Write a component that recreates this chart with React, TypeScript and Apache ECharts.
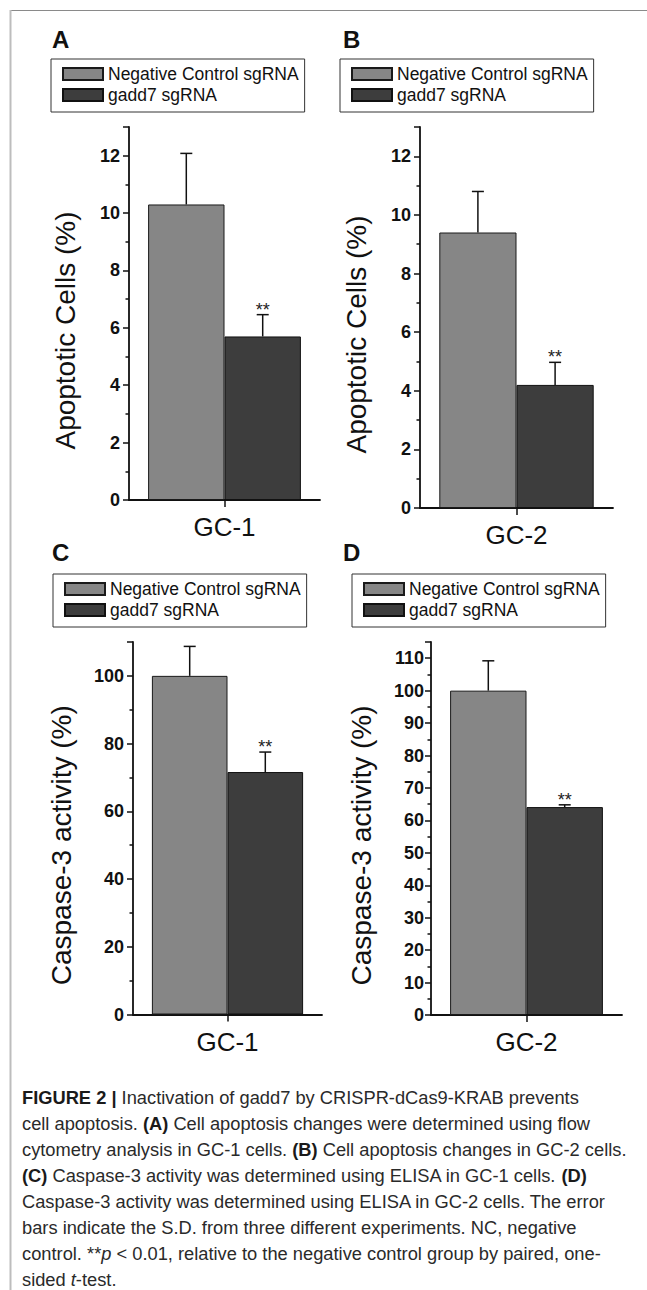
import React, { useEffect, useRef } from 'react';
import * as echarts from 'echarts';

// ---------- data ----------
const legendNames = ['Negative Control sgRNA', 'gadd7 sgRNA'];
const panelLetters = ['A', 'B', 'C', 'D'];
const categories = [['GC-1'], ['GC-2'], ['GC-1'], ['GC-2']];
const yAxisNames = ['Apoptotic Cells (%)', 'Apoptotic Cells (%)', 'Caspase-3 activity (%)', 'Caspase-3 activity (%)'];
const ncMeans = [10.3, 9.4, 100, 100];
const ncSD = [1.78, 1.4, 8.7, 9.2];
const gaddMeans = [5.7, 4.2, 71.6, 64.1];
const gaddSD = [0.76, 0.77, 5.9, 0.7];
const significance = ['**', '**', '**', '**'];
const yMax = [13, 13, 110, 115];
const yInterval = [2, 2, 20, 10];

const captionLines = [
  '{b|FIGURE 2 |} Inactivation of gadd7 by CRISPR-dCas9-KRAB prevents',
  'cell apoptosis. {b|(A)} Cell apoptosis changes were determined using flow',
  'cytometry analysis in GC-1 cells. {b|(B)} Cell apoptosis changes in GC-2 cells.',
  '{b|(C)} Caspase-3 activity was determined using ELISA in GC-1 cells. {b|(D)}',
  'Caspase-3 activity was determined using ELISA in GC-2 cells. The error',
  'bars indicate the S.D. from three different experiments. NC, negative',
  'control. **{i|p} < 0.01, relative to the negative control group by paired, one-',
  'sided {i|t}-test.',
];

// ---------- layout ----------
const FONT = '"Liberation Sans", Arial, Helvetica, sans-serif';
const LAYOUT = [
  { x: 129, y: 127, w: 191, h: 373, legX: 51, legY: 59, letX: 52, letY: 39, nameGap: 50, labMargin: 9 },
  { x: 420, y: 127, w: 193, h: 381, legX: 340, legY: 59, letX: 343, letY: 39, nameGap: 50, labMargin: 9 },
  { x: 133, y: 642, w: 189, h: 372.5, legX: 53, legY: 574, letX: 52, letY: 552, nameGap: 58, labMargin: 9 },
  { x: 431, y: 642, w: 191, h: 373, legX: 352, legY: 574, letX: 343, letY: 552, nameGap: 56, labMargin: 7 },
];
const INK = '#111';
const CAP_FS = 18.3;

function buildOption() {
  const grid = LAYOUT.map((L) => ({ left: L.x, top: L.y, width: L.w, height: L.h, containLabel: false }));

  const xAxis = categories.map((c, i) => ({
    type: 'category',
    gridIndex: i,
    data: c,
    axisLine: { show: true, lineStyle: { color: INK, width: 1.8 } },
    axisTick: { show: true, alignWithLabel: true, length: 7, lineStyle: { color: INK, width: 1.5 } },
    axisLabel: { margin: 14, fontSize: 26, color: INK, fontFamily: FONT },
    splitLine: { show: false },
  }));

  const yAxis = yMax.map((mx, i) => ({
    type: 'value',
    gridIndex: i,
    min: 0,
    max: mx,
    interval: yInterval[i],
    name: yAxisNames[i],
    nameLocation: 'middle',
    nameGap: LAYOUT[i].nameGap,
    nameTextStyle: { fontSize: 28, color: INK, fontFamily: FONT, padding: [0, 34, 0, 0] },
    axisLine: { show: true, lineStyle: { color: INK, width: 1.8 } },
    axisTick: { show: true, length: 6, lineStyle: { color: INK, width: 1.5 } },
    minorTick: { show: true, splitNumber: 2, length: 3.5, lineStyle: { color: INK, width: 1.5 } },
    splitLine: { show: false },
    minorSplitLine: { show: false },
    axisLabel: {
      margin: LAYOUT[i].labMargin,
      fontSize: 18,
      fontWeight: 'bold',
      color: INK,
      fontFamily: FONT,
      formatter: (v: number) => (v % yInterval[i] === 0 ? String(v) : ''),
    },
  }));

  const series: any[] = [];
  for (let i = 0; i < 4; i++) {
    series.push({
      type: 'bar',
      name: legendNames[0],
      xAxisIndex: i,
      yAxisIndex: i,
      data: [ncMeans[i]],
      barGap: '0%',
      barCategoryGap: '20%',
      itemStyle: { color: '#868686', borderColor: '#1a1a1a', borderWidth: 1 },
    });
    series.push({
      type: 'bar',
      name: legendNames[1],
      xAxisIndex: i,
      yAxisIndex: i,
      data: [gaddMeans[i]],
      barGap: '0%',
      barCategoryGap: '20%',
      itemStyle: { color: '#3d3d3d', borderColor: '#111', borderWidth: 1 },
    });
    const panel = i;
    series.push({
      type: 'custom',
      xAxisIndex: i,
      yAxisIndex: i,
      z: 10,
      silent: true,
      data: [
        [0, ncMeans[i], ncMeans[i] + ncSD[i], 0],
        [0, gaddMeans[i], gaddMeans[i] + gaddSD[i], 1],
      ],
      renderItem: (params: any, api: any) => {
        const cat = api.value(0);
        const mean = api.value(1);
        const top = api.value(2);
        const which = api.value(3);
        const band = api.size([1, 0])[0];
        const off = (which === 0 ? -1 : 1) * band * 0.2;
        const p0 = api.coord([cat, mean]);
        const p1 = api.coord([cat, top]);
        const x = p0[0] + off;
        const st = { stroke: INK, lineWidth: 1.5 };
        const children: any[] = [
          { type: 'line', shape: { x1: x, y1: p0[1], x2: x, y2: p1[1] }, style: st },
          { type: 'line', shape: { x1: x - 6, y1: p1[1], x2: x + 6, y2: p1[1] }, style: st },
        ];
        if (which === 1 && significance[panel]) {
          children.push({
            type: 'text',
            x,
            y: p1[1] - 5,
            style: {
              text: significance[panel],
              fontSize: 18,
              fontFamily: FONT,
              fill: '#222',
              align: 'center',
              verticalAlign: 'middle',
            },
          });
        }
        return { type: 'group', children };
      },
    });
  }

  const legend = LAYOUT.map((L) => ({
    left: L.legX,
    top: L.legY,
    orient: 'vertical',
    data: legendNames,
    icon: 'rect',
    itemWidth: 40,
    itemHeight: 12,
    itemGap: 3,
    padding: [6, 6, 8, 11],
    borderColor: '#333',
    borderWidth: 1,
    selectedMode: false,
    textStyle: { fontSize: 17.5, color: INK, fontFamily: FONT },
  }));

  const graphic: any[] = [
    { type: 'line', shape: { x1: 10, y1: 10.5, x2: 647, y2: 10.5 }, style: { stroke: '#8a8a8a', lineWidth: 1 } },
    { type: 'line', shape: { x1: 10.5, y1: 10, x2: 10.5, y2: 1290 }, style: { stroke: '#bdbdbd', lineWidth: 2 } },
  ];
  LAYOUT.forEach((L, i) => {
    graphic.push({
      type: 'text',
      x: L.letX,
      y: L.letY,
      style: { text: panelLetters[i], fontSize: 24, fontWeight: 'bold', fontFamily: FONT, fill: '#111', verticalAlign: 'middle' },
    });
  });
  captionLines.forEach((line, k) => {
    graphic.push({
      type: 'text',
      x: 22,
      y: 1097 + k * 26.1,
      style: {
        text: line,
        fontSize: CAP_FS,
        fontFamily: FONT,
        fill: '#2a2a2a',
        verticalAlign: 'middle',
        rich: {
          b: { fontSize: CAP_FS, fontFamily: FONT, fontWeight: 'bold', fill: '#1a1a1a' },
          i: { fontSize: CAP_FS, fontFamily: FONT, fontStyle: 'italic', fill: '#2a2a2a' },
        },
      },
    });
  });

  return {
    animation: false,
    backgroundColor: '#ffffff',
    textStyle: { fontFamily: FONT },
    grid,
    xAxis,
    yAxis,
    legend,
    series,
    graphic,
  };
}

export default function App() {
  const ref = useRef<HTMLDivElement>(null);
  useEffect(() => {
    if (!ref.current) return;
    const chart = echarts.init(ref.current, undefined, { renderer: 'svg' });
    chart.setOption(buildOption() as any);
    return () => chart.dispose();
  }, []);
  return (
    <div
      ref={ref}
      style={{ position: 'absolute', left: 0, top: 0, width: 647, height: 1290, background: '#fff' }}
    />
  );
}
